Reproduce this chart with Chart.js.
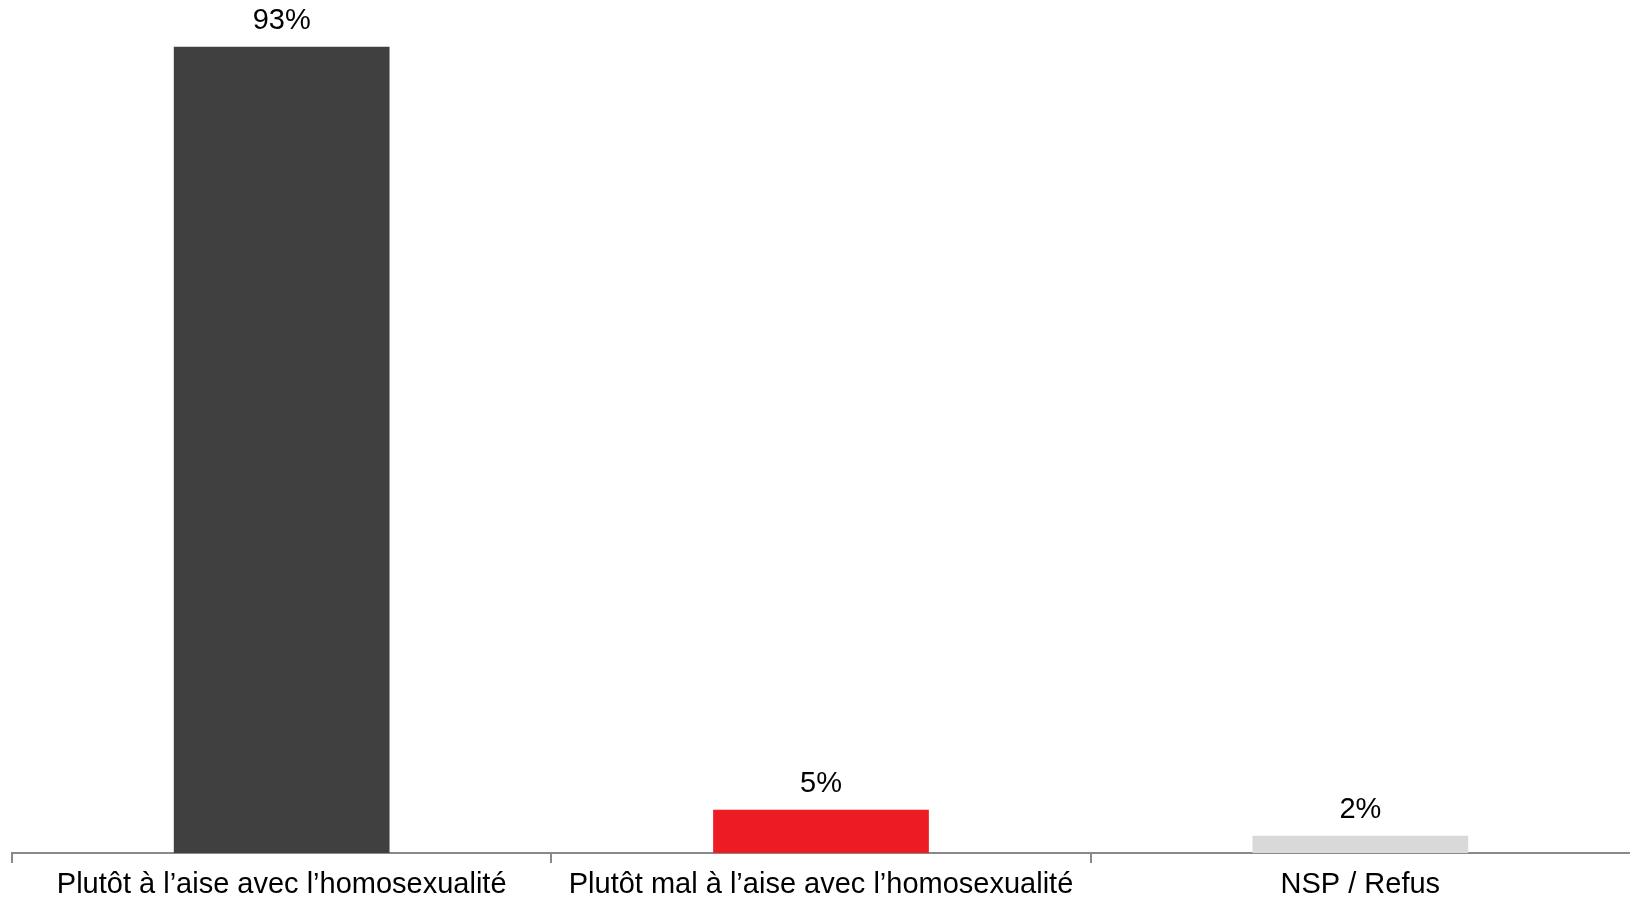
<!DOCTYPE html>
<html>
<head>
<meta charset="utf-8">
<script src="https://cdn.jsdelivr.net/npm/chart.js@4/dist/chart.umd.min.js"></script>
<style>
  html, body { margin: 0; padding: 0; background: #fff; overflow: hidden; }
  #wrap { width: 1630px; height: 903px; position: relative; }
  #myChart { display: block; }
</style>
</head>
<body>
<div id="wrap"><canvas id="myChart"></canvas></div>
<script>
const categories = [
  "Plutôt à l’aise avec l’homosexualité",
  "Plutôt mal à l’aise avec l’homosexualité",
  "NSP / Refus"
];
const values = [93, 5, 2];
const barColors = ["#404040", "#ED1C24", "#D9D9D9"];

// draw the "xx%" labels above each bar
const valueLabels = {
  id: "valueLabels",
  afterDatasetsDraw(chart) {
    const ctx = chart.ctx;
    const meta = chart.getDatasetMeta(0);
    ctx.save();
    ctx.font = "29px 'Liberation Sans', Arial, sans-serif";
    ctx.fillStyle = "#000";
    ctx.textAlign = "center";
    ctx.textBaseline = "middle";
    meta.data.forEach(function (bar, i) {
      ctx.fillText(values[i] + "%", bar.x, bar.y - 26);
    });
    ctx.restore();
  }
};

const ctx = document.getElementById("myChart").getContext("2d");
window.chart = new Chart(ctx, {
  type: "bar",
  data: {
    labels: categories,
    datasets: [
      {
        data: values,
        backgroundColor: barColors,
        borderWidth: 0,
        categoryPercentage: 1,
        barPercentage: 0.4
      }
    ]
  },
  options: {
    responsive: true,
    maintainAspectRatio: false,
    animation: false,
    layout: { padding: { left: 12, right: 0, top: 0, bottom: 0 } },
    plugins: {
      legend: { display: false },
      tooltip: { enabled: false }
    },
    scales: {
      x: {
        afterFit: function (scale) {
          scale.height = 50;
        },
        grid: {
          display: true,
          drawOnChartArea: false,
          drawTicks: true,
          tickLength: 10,
          // no tick mark at the right end
          color: function (c) {
            return c.type === "tick" ? "#898989" : "rgba(0,0,0,0)";
          },
          lineWidth: 2
        },
        border: { display: true, color: "#898989", width: 2 },
        ticks: {
          color: "#000",
          padding: 7,
          maxRotation: 0,
          autoSkip: false,
          font: { family: "'Liberation Sans', Arial, sans-serif", size: 29, lineHeight: 1 }
        }
      },
      y: {
        display: false,
        min: 0,
        max: 98.4
      }
    }
  },
  plugins: [valueLabels]
});
</script>
</body>
</html>
